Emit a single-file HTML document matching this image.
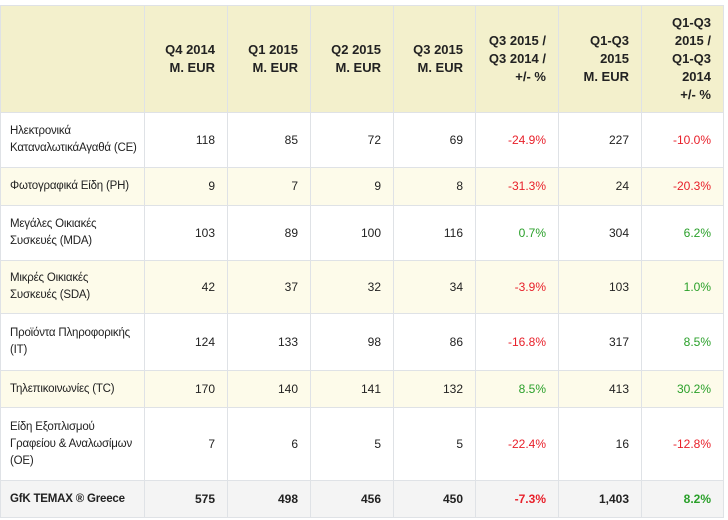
<!DOCTYPE html>
<html><head><meta charset="utf-8"><style>
body{margin:0;background:#fff;width:728px;height:520px;overflow:hidden}
table{position:absolute;left:0;top:5px;border-collapse:collapse;table-layout:fixed;width:723px;font-family:"Liberation Sans",Arial,sans-serif;font-size:12px;color:#222}
td,th{border:1px solid #dfe2e6;padding:0 12px 0 10px;text-align:right;line-height:17px;overflow:hidden}
th{background:#f3f0cc;font-weight:bold;font-size:13px;line-height:18px;color:#222}
td:first-child{text-align:left;white-space:nowrap;padding:0 0 0 9px;letter-spacing:-0.2px;font-size:11.5px}
tr.a td{background:#fdfbea}
tr.t td{background:#f4f4f4;font-weight:bold}
.r{color:#e8202a}.g{color:#2aa02a}
</style></head><body>
<table>
<colgroup><col style="width:144px"><col style="width:83px"><col style="width:83px"><col style="width:83px"><col style="width:82px"><col style="width:83px"><col style="width:83px"><col style="width:82px"></colgroup>
<tr style="height:107px"><th></th><th>Q4 2014<br>M. EUR</th><th>Q1 2015<br>M. EUR</th><th>Q2 2015<br>M. EUR</th><th>Q3 2015<br>M. EUR</th><th>Q3 2015 /<br>Q3 2014 /<br>+/- %</th><th>Q1-Q3<br>2015<br>M. EUR</th><th>Q1-Q3<br>2015 /<br>Q1-Q3<br>2014<br>+/- %</th></tr>
<tr style="height:55px"><td>Ηλεκτρονικά<br>ΚαταναλωτικάΑγαθά (CE)</td><td>118</td><td>85</td><td>72</td><td>69</td><td class="r">-24.9%</td><td>227</td><td class="r">-10.0%</td></tr>
<tr class="a" style="height:38px"><td>Φωτογραφικά Είδη (PH)</td><td>9</td><td>7</td><td>9</td><td>8</td><td class="r">-31.3%</td><td>24</td><td class="r">-20.3%</td></tr>
<tr style="height:55px"><td>Μεγάλες Οικιακές<br>Συσκευές (MDA)</td><td>103</td><td>89</td><td>100</td><td>116</td><td class="g">0.7%</td><td>304</td><td class="g">6.2%</td></tr>
<tr class="a" style="height:53px"><td>Μικρές Οικιακές<br>Συσκευές (SDA)</td><td>42</td><td>37</td><td>32</td><td>34</td><td class="r">-3.9%</td><td>103</td><td class="g">1.0%</td></tr>
<tr style="height:57px"><td>Προϊόντα Πληροφορικής<br>(IT)</td><td>124</td><td>133</td><td>98</td><td>86</td><td class="r">-16.8%</td><td>317</td><td class="g">8.5%</td></tr>
<tr class="a" style="height:37px"><td>Τηλεπικοινωνίες (TC)</td><td>170</td><td>140</td><td>141</td><td>132</td><td class="g">8.5%</td><td>413</td><td class="g">30.2%</td></tr>
<tr style="height:73px"><td>Είδη Εξοπλισμού<br>Γραφείου &amp; Αναλωσίμων<br>(OE)</td><td>7</td><td>6</td><td>5</td><td>5</td><td class="r">-22.4%</td><td>16</td><td class="r">-12.8%</td></tr>
<tr class="t" style="height:37px"><td>GfK TEMAX ® Greece</td><td>575</td><td>498</td><td>456</td><td>450</td><td class="r">-7.3%</td><td>1,403</td><td class="g">8.2%</td></tr>
</table>
</body></html>
